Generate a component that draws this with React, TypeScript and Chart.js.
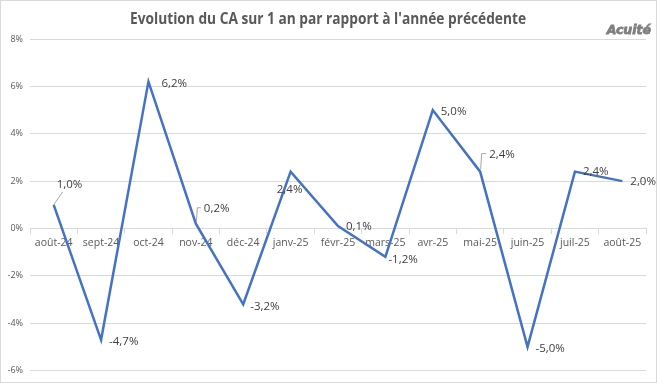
import React, { useEffect, useRef } from "react";
import { Chart, registerables } from "chart.js";

Chart.register(...registerables);

const categories = [
  "août-24", "sept-24", "oct-24", "nov-24", "déc-24", "janv-25", "févr-25",
  "mars-25", "avr-25", "mai-25", "juin-25", "juil-25", "août-25",
];
const values = [1.0, -4.7, 6.2, 0.2, -3.2, 2.4, 0.1, -1.2, 5.0, 2.4, -5.0, 2.4, 2.0];
const yTicks = [-6, -4, -2, 0, 2, 4, 6, 8];
const titleText = "Evolution du CA sur 1 an par rapport à l'année précédente";
const brandText = "Acuité";

// label placement styles: [dx, dy, align, leader]
const labelStyles: [number, number, string, string][] = [
  [3, -20, "left", "diag"],
  [8, 2, "left", ""],
  [13, 2, "left", ""],
  [8, -15, "left", "bracket"],
  [7, 2, "left", ""],
  [-1, 18, "center", ""],
  [8, 1, "left", ""],
  [3, 3, "left", ""],
  [8, 2, "left", ""],
  [9, -17, "left", "bracket"],
  [8, 2, "left", ""],
  [8, 0, "left", ""],
  [8, 1, "left", ""],
];

const fmt = (v: number) => v.toFixed(1).replace(".", ",") + "%";

const decorPlugin = {
  id: "decor",
  beforeDraw(chart: any) {
    const ctx = chart.ctx;
    ctx.save();
    ctx.fillStyle = "#ffffff";
    ctx.fillRect(0, 0, chart.width, chart.height);
    ctx.restore();
  },
  afterDatasetsDraw(chart: any) {
    const ctx = chart.ctx;
    const meta = chart.getDatasetMeta(0);
    ctx.save();
    ctx.font = "11.5px 'Open Sans'";
    ctx.fillStyle = "#404040";
    ctx.textBaseline = "middle";
    meta.data.forEach((pt: any, i: number) => {
      const [dx, dy, align, leader] = labelStyles[i];
      const x = pt.x + dx;
      const y = pt.y + dy;
      const txt = fmt(values[i]);
      ctx.textAlign = align;
      ctx.fillText(txt, x, y);
      if (leader) {
        ctx.strokeStyle = "#a6a6a6";
        ctx.lineWidth = 1;
        ctx.beginPath();
        if (leader === "diag") {
          ctx.moveTo(pt.x, pt.y);
          ctx.lineTo(x + 6, y + 7);
        } else {
          ctx.moveTo(pt.x + 0.5, pt.y - 2);
          ctx.lineTo(pt.x + 1.5, y - 1);
          ctx.lineTo(x - 3, y - 1);
        }
        ctx.stroke();
      }
    });
    ctx.restore();
  },
  afterDraw(chart: any) {
    const ctx = chart.ctx;
    ctx.save();
    // title
    ctx.font = "bold 16px 'Open Sans'";
    ctx.fillStyle = "#595959";
    ctx.textBaseline = "middle";
    ctx.textAlign = "left";
    const w = ctx.measureText(titleText).width;
    const target = 396;
    const sx = target / w;
    ctx.translate(328 - target / 2, 19);
    ctx.scale(sx, 1);
    ctx.fillText(titleText, 0, 0);
    ctx.restore();
    // brand
    ctx.save();
    ctx.font = "italic bold 12.5px 'DejaVu Sans'";
    ctx.fillStyle = "#7f7f7f";
    ctx.strokeStyle = "#7f7f7f";
    ctx.lineWidth = 0.8;
    ctx.textAlign = "right";
    ctx.textBaseline = "middle";
    ctx.fillText(brandText, 651, 31);
    ctx.strokeText(brandText, 651, 31);
    ctx.restore();
    // border
    ctx.save();
    ctx.strokeStyle = "#d9d9d9";
    ctx.lineWidth = 1;
    ctx.strokeRect(0.5, 0.5, chart.width - 1, chart.height - 1);
    ctx.restore();
  },
};

export default function App() {
  const ref = useRef<HTMLCanvasElement | null>(null);
  useEffect(() => {
    if (!ref.current) return;
    const chart = new Chart(ref.current, {
      type: "line",
      data: {
        labels: categories,
        datasets: [
          {
            data: values,
            borderColor: "#4472C4",
            borderWidth: 2.5,
            pointRadius: 0,
            tension: 0,
            fill: false,
          },
        ],
      },
      options: {
        animation: false,
        responsive: false,
        layout: { padding: { top: 39, left: 8, right: 11, bottom: 11 } },
        plugins: {
          legend: { display: false },
          tooltip: { enabled: false },
          title: { display: false },
        },
        scales: {
          x: {
            type: "category",
            offset: true,
            position: { y: 0 } as any,
            grid: {
              drawOnChartArea: false,
              drawTicks: true,
              tickLength: 5,
              offset: true,
              color: "#d9d9d9",
            },
            border: { color: "#d9d9d9" },
            ticks: {
              color: "#595959",
              font: { family: "'Open Sans'", size: 10.5 },
              padding: 3,
              maxRotation: 0,
              autoSkip: false,
            },
            afterFit: (s: any) => {
              s.height = 0;
            },
          },
          y: {
            min: -6,
            max: 8,
            afterBuildTicks: (s: any) => {
              s.ticks = yTicks.map((v) => ({ value: v }));
            },
            ticks: {
              color: "#595959",
              font: { family: "'Open Sans'", size: 9 },
              padding: 7,
              callback: (v: any) => v + "%",
            },
            grid: { color: "#d9d9d9", drawTicks: false },
            border: { display: false },
            afterFit: (s: any) => {
              s.width = 22;
            },
          },
        },
      } as any,
      plugins: [decorPlugin],
    });
    return () => chart.destroy();
  }, []);
  return (
    <div style={{ position: "absolute", left: 0, top: 0, width: 657, height: 383 }}>
      <canvas ref={ref} width={657} height={383} style={{ display: "block" }} />
    </div>
  );
}
